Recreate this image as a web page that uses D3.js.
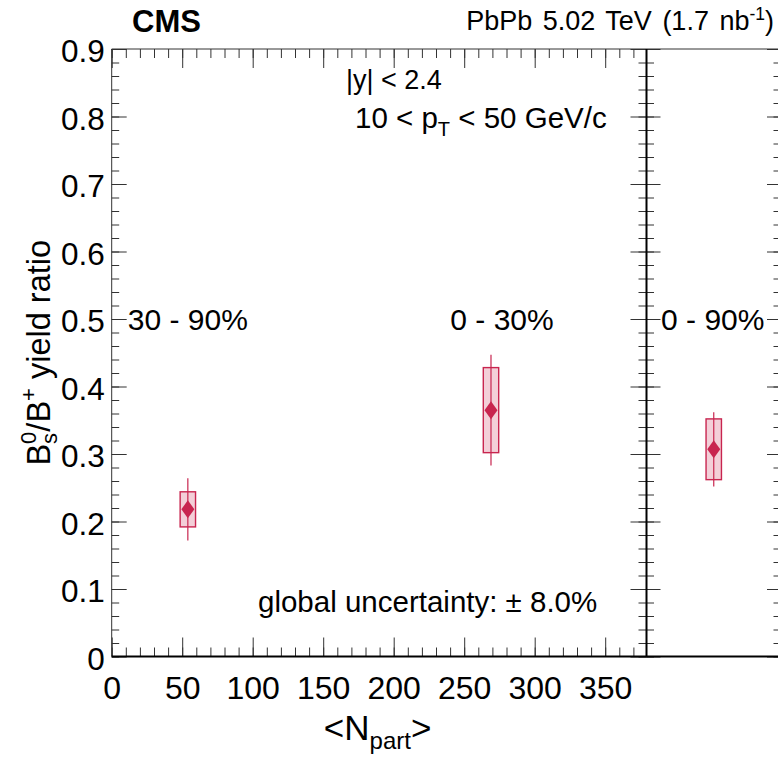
<!DOCTYPE html>
<html>
<head>
<meta charset="utf-8">
<script src="https://cdn.jsdelivr.net/npm/d3@7/dist/d3.min.js"></script>
<style>
  html, body { margin: 0; padding: 0; background: #fff; }
  svg { display: block; }
  text { font-family: "Liberation Sans", Arial, Helvetica, sans-serif; fill: #000; }
</style>
</head>
<body>
<svg id="chart" width="778" height="757"></svg>
<script>
// Centrality-binned B_s^0 / B^+ yield ratio vs <N_part>
const centralityLabels = ["30 - 90%", "0 - 30%"];
const nPart = [54, 269];
const ratio = [0.218, 0.365];
const statErr = [0.046, 0.082];
const systErr = [0.026, 0.063];

// Integrated 0 - 90% bin (right-hand panel)
const integratedLabel = "0 - 90%";
const integratedRatio = [0.307];
const integratedStat = [0.055];
const integratedSyst = [0.045];

// Axis ticks
const xTickLabels = [0, 50, 100, 150, 200, 250, 300, 350];
const yTickLabels = [0, 0.1, 0.2, 0.3, 0.4, 0.5, 0.6, 0.7, 0.8, 0.9];

const W = 778, H = 757;
const FONT = "Liberation Sans, Arial, Helvetica, sans-serif";
const RED = "#c8254f";
const FILL = "#f3cfd8";

const svg = d3.select("#chart");
svg.append("rect").attr("width", W).attr("height", H).attr("fill", "#fff");

const plotTop = 49, plotBottom = 656.5;
const y = d3.scaleLinear().domain([0, 0.9]).range([plotBottom, plotTop]);
const xL = d3.scaleLinear().domain([0, 380]).range([111.7, 647.5]);
const xR = d3.scaleLinear().domain([0, 1]).range([646.5, 781]);

const xMinor = d3.range(0, 38).map(i => i * 10);
const yMinor = d3.range(0, 46).map(i => +(i * 0.02).toFixed(2));

function styleAxis(g, color) {
  g.select(".domain").remove();
  g.selectAll(".tick line").attr("stroke", color || "#333").attr("stroke-width", 1);
  g.selectAll(".tick text").attr("font-family", FONT).attr("fill", "#000");
}

// ---- left panel: y axis (labels) ----
const yAxisG = svg.append("g").attr("transform", `translate(${xL(0)},0)`)
  .call(d3.axisLeft(y).tickValues(yMinor).tickSizeInner(-7.5).tickSizeOuter(0).tickFormat(""));
styleAxis(yAxisG);
const yMajG = svg.append("g").attr("transform", `translate(${xL(0)},0)`)
  .call(d3.axisLeft(y).tickValues(yTickLabels).tickSizeInner(-15).tickSizeOuter(0)
    .tickPadding(7).tickFormat(d => d === 0 ? "0" : d3.format(".1f")(d)));
styleAxis(yMajG);
yMajG.selectAll(".tick text").attr("font-size", 31.5).attr("dy", null).attr("y", 12.5);

// ---- left panel: x axis ----
const xMinG = svg.append("g").attr("transform", `translate(0,${plotBottom})`)
  .call(d3.axisBottom(xL).tickValues(xMinor).tickSizeInner(-9).tickSizeOuter(0).tickFormat(""));
styleAxis(xMinG);
const xMajG = svg.append("g").attr("transform", `translate(0,${plotBottom})`)
  .call(d3.axisBottom(xL).tickValues(xTickLabels).tickSizeInner(-19).tickSizeOuter(0).tickFormat(d3.format("d")));
styleAxis(xMajG);
xMajG.selectAll(".tick text").attr("font-size", 32).attr("dy", null).attr("y", 42);

// top axis (ticks only)
const xTopMin = svg.append("g").attr("transform", `translate(0,${plotTop})`)
  .call(d3.axisTop(xL).tickValues(xMinor).tickSizeInner(-9).tickSizeOuter(0).tickFormat(""));
styleAxis(xTopMin);
const xTopMaj = svg.append("g").attr("transform", `translate(0,${plotTop})`)
  .call(d3.axisTop(xL).tickValues(xTickLabels).tickSizeInner(-19).tickSizeOuter(0).tickFormat(""));
styleAxis(xTopMaj);

// right edge of left panel (ticks pointing left)
const yRightMin = svg.append("g").attr("transform", `translate(${xR(0)},0)`)
  .call(d3.axisRight(y).tickValues(yMinor).tickSizeInner(-8).tickSizeOuter(0).tickFormat(""));
styleAxis(yRightMin);
const yRightMaj = svg.append("g").attr("transform", `translate(${xR(0)},0)`)
  .call(d3.axisRight(y).tickValues(yTickLabels).tickSizeInner(-16).tickSizeOuter(0).tickFormat(""));
styleAxis(yRightMaj);

// ---- right panel: y ticks on both sides ----
const rpLeftMin = svg.append("g").attr("transform", `translate(${xR(0)},0)`)
  .call(d3.axisLeft(y).tickValues(yMinor).tickSizeInner(-7.5).tickSizeOuter(0).tickFormat(""));
styleAxis(rpLeftMin);
const rpLeftMaj = svg.append("g").attr("transform", `translate(${xR(0)},0)`)
  .call(d3.axisLeft(y).tickValues(yTickLabels).tickSizeInner(-14).tickSizeOuter(0).tickFormat(""));
styleAxis(rpLeftMaj);
const rpRightMin = svg.append("g").attr("transform", `translate(${xR(1)},0)`)
  .call(d3.axisRight(y).tickValues(yMinor).tickSizeInner(-7.5).tickSizeOuter(0).tickFormat(""));
styleAxis(rpRightMin);
const rpRightMaj = svg.append("g").attr("transform", `translate(${xR(1)},0)`)
  .call(d3.axisRight(y).tickValues(yTickLabels).tickSizeInner(-14).tickSizeOuter(0).tickFormat(""));
styleAxis(rpRightMaj);

// ---- frames ----
const frame = svg.append("g");
frame.append("line").attr("x1", xL(0)).attr("x2", xL(0)).attr("y1", plotTop).attr("y2", plotBottom)
  .attr("stroke", "#333").attr("stroke-width", 1);
frame.append("line").attr("x1", xL(0)).attr("x2", W).attr("y1", plotTop).attr("y2", plotTop)
  .attr("stroke", "#333").attr("stroke-width", 1);
frame.append("line").attr("x1", xL(0)).attr("x2", W).attr("y1", plotBottom).attr("y2", plotBottom)
  .attr("stroke", "#000").attr("stroke-width", 2);
frame.append("line").attr("x1", xR(0)).attr("x2", xR(0)).attr("y1", plotTop).attr("y2", plotBottom)
  .attr("stroke", "#000").attr("stroke-width", 2);

// ---- data marks ----
const BOX_HALF = 7.7, DX = 6.5, DY = 9;
function drawPoint(g, px, v, stat, syst) {
  g.append("rect")
    .attr("x", px - BOX_HALF).attr("width", 2 * BOX_HALF)
    .attr("y", y(v + syst)).attr("height", y(v - syst) - y(v + syst))
    .attr("fill", FILL).attr("stroke", RED).attr("stroke-width", 1.4);
  g.append("line").attr("x1", px).attr("x2", px)
    .attr("y1", y(v + stat)).attr("y2", y(v - stat))
    .attr("stroke", RED).attr("stroke-width", 1.2);
  const cy = y(v);
  g.append("path")
    .attr("d", `M${px},${cy - DY}L${px + DX},${cy}L${px},${cy + DY}L${px - DX},${cy}Z`)
    .attr("fill", RED);
}
const marks = svg.append("g");
nPart.forEach((n, i) => drawPoint(marks, xL(n), ratio[i], statErr[i], systErr[i]));
integratedRatio.forEach((v, i) => drawPoint(marks, xR(0.5), v, integratedStat[i], integratedSyst[i]));

// ---- text annotations ----
function addText(x, yy, size, str, opts = {}) {
  const t = svg.append("text").attr("x", x).attr("y", yy).attr("font-size", size)
    .attr("text-anchor", opts.anchor || "start");
  if (opts.weight) t.attr("font-weight", opts.weight);
  t.text(str);
  return t;
}

addText(132, 31.5, 31, "CMS", { weight: "bold" });

// luminosity label
const lumi = svg.append("text").attr("x", 774).attr("y", 30).attr("font-size", 27)
  .attr("text-anchor", "end").attr("word-spacing", 3);
lumi.append("tspan").text("PbPb 5.02 TeV (1.7 nb");
lumi.append("tspan").attr("font-size", 17.5).attr("dy", -10.5).text("-1");
lumi.append("tspan").attr("dy", 10.5).text(")");

addText(346, 89, 27, "|y| < 2.4");
const ptT = svg.append("text").attr("x", 355).attr("y", 128).attr("font-size", 29.5);
ptT.append("tspan").text("10 < p");
ptT.append("tspan").attr("font-size", 20).attr("dy", 8).text("T");
ptT.append("tspan").attr("dy", -8).text(" < 50 GeV/c");

addText(xL(54), y(0.5) + 10.5, 30, centralityLabels[0], { anchor: "middle" });
addText(502, y(0.5) + 10.5, 30, centralityLabels[1], { anchor: "middle" });
addText(xR(0.5) - 1, y(0.5) + 10.5, 30, integratedLabel, { anchor: "middle" });

addText(258, 612, 29.5, "global uncertainty: \u00b1 8.0%");

// x axis title
const xt = svg.append("text").attr("x", (xL(0) + xL(380)) / 2 - 2).attr("y", 740)
  .attr("font-size", 35).attr("text-anchor", "middle");
xt.append("tspan").text("<N");
xt.append("tspan").attr("font-size", 24).attr("dy", 9).text("part");
xt.append("tspan").attr("dy", -9).text(">");

// y axis title (rotated), with stacked sub/superscript on B
const ytG = svg.append("g").attr("transform", `translate(50,${(plotTop + plotBottom) / 2}) rotate(-90)`);
const yt = ytG.append("text").attr("x", 0).attr("y", 0).attr("font-size", 32.5);
yt.append("tspan").text("B");
const sup0 = yt.append("tspan").attr("font-size", 22).attr("dy", -14).text("0");
const w0 = sup0.node().getComputedTextLength();
const subS = yt.append("tspan").attr("font-size", 22).attr("dx", -w0).attr("dy", 21).text("s");
const ws = subS.node().getComputedTextLength();
yt.append("tspan").attr("dx", Math.max(0, w0 - ws)).attr("dy", -7).text("/B");
yt.append("tspan").attr("font-size", 22).attr("dy", -14).text("+");
yt.append("tspan").attr("dy", 14).text(" yield ratio");
const bw = yt.node().getBBox().width;
yt.attr("x", -bw / 2);
</script>
</body>
</html>
